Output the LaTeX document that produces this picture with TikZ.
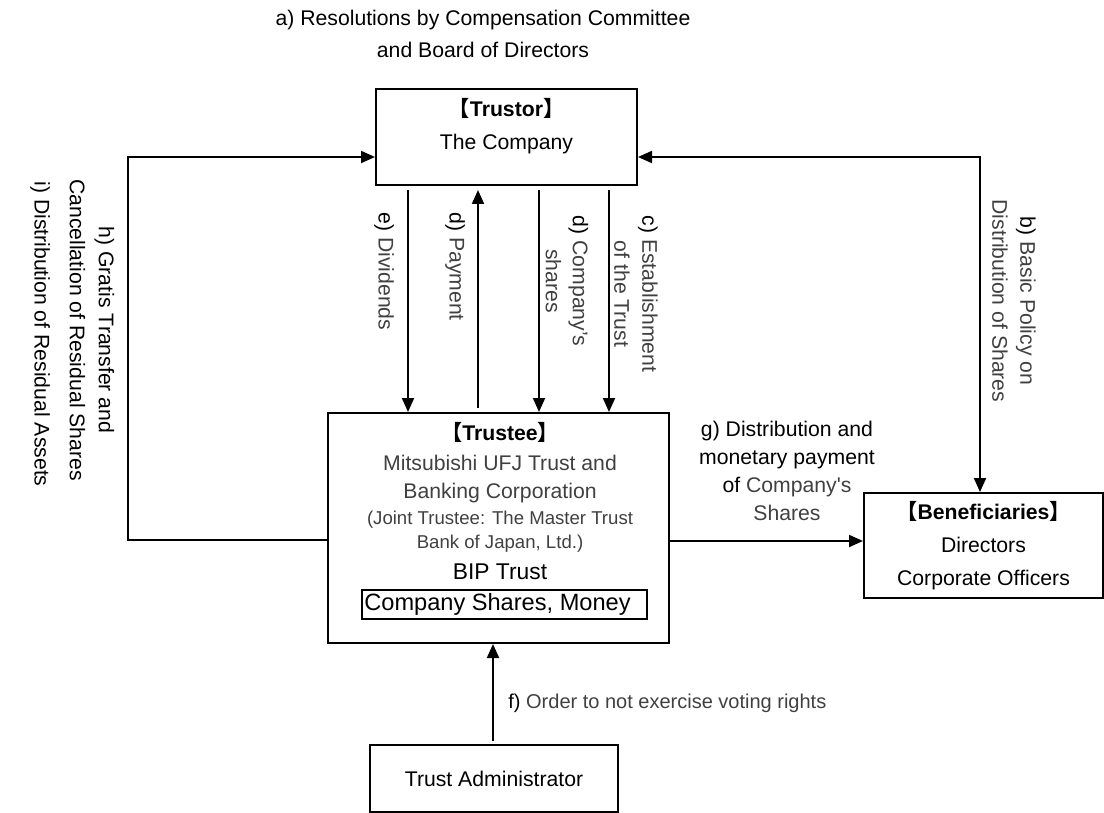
\documentclass[tikz,border=0pt]{standalone}
\usepackage{fontspec}
\setmainfont{Liberation Sans}
\newfontfamily\rawfont{Liberation Sans}
\newfontfamily\cjk{Noto Sans CJK JP}
\usetikzlibrary{arrows.meta,positioning}
\definecolor{ink}{RGB}{0, 0, 0}
\definecolor{soft}{RGB}{64, 64, 64}
\newcommand{\bodyfont}{\fontsize{10.6}{14}\selectfont}
\newcommand{\lbr}{{\cjk 【}}
\newcommand{\rbr}{{\cjk 】}}
\tikzstyle{link} = [
    line width=1pt,
    -{Triangle[length=7pt,width=6pt]},
    draw=ink
]
\tikzstyle{twoway} = [
    link,
    {Triangle[length=7pt,width=6pt]}-{Triangle[length=7pt,width=6pt]}
]
\tikzstyle{party} = [
    rectangle,
    draw=ink,
    line width=1pt,
    inner sep=0pt,
    align=center,
    text=ink,
    font=\bodyfont
]
\tikzstyle{note} = [
    inner sep=0pt,
    align=center,
    text=soft,
    font=\bodyfont
]
\begin{document}
\begin{tikzpicture}[x=0.5pt,y=-0.5pt]
    \useasboundingbox (0,0) rectangle (1104,813);
    % boxes
    \node[party, minimum width=130.5pt, minimum height=48pt] (trustor) at (506.5,137) {};
    \node[note, text=ink, font=\fontsize{10.6}{16.5}\selectfont] (trustortext) at (506.5,126) {\textbf{\lbr Trustor\rbr}\\The Company};
    \node[party, minimum width=170.5pt, minimum height=115pt] (trustee) at (498.5,528) {};
    \node[note, text=ink] (trusteetitle) at (500,432) {\textbf{\lbr Trustee\rbr}};
    \node[note] (trusteebank) at (500,479) {Mitsubishi UFJ Trust and\\Banking Corporation};
    \node[note, font=\fontsize{9.3}{12}\selectfont] (trusteejoint) at (500,532) {(Joint Trustee: The Master Trust\\Bank of Japan, Ltd.)};
    \node[note, text=ink, font=\fontsize{11.4}{14}\selectfont] (bip) at (500,572) {BIP Trust};
    \node[party, minimum width=142.5pt, minimum height=14.5pt, font=\fontsize{11.8}{14}\selectfont] (assets) at (504.5,604.5) {Company Shares, Money\hspace{7pt}};
    \node[party, minimum width=119.5pt, minimum height=52.5pt, font=\fontsize{10.6}{16.5}\selectfont] (beneficiaries) at (983.5,545.5) {\textbf{\lbr Beneficiaries\rbr}\\Directors\\Corporate Officers};
    \node[party, minimum width=124pt, minimum height=33.5pt] (admin) at (494,778.5) {Trust Administrator};
    % connectors
    \foreach \x in {408,539,609}
        \draw[link, shorten <=2pt] (trustor.south -| \x,0) -- (trustee.north -| \x,0);
    \draw[link, shorten <=2pt, shorten >=2pt] (trustee.north -| 478,0) -- (trustor.south -| 478,0);
    \draw[link] (trustee.west |- 0,540) -| (128,157) -- (trustor.west |- 0,157);
    \draw[twoway] (trustor.east |- 0,157) -| (beneficiaries.north -| 980,0);
    \draw[link] (trustee.east |- 0,541) -- (beneficiaries.west |- 0,541);
    \draw[link, shorten <=1.5pt] (admin.north -| 493,0) -- (trustee.south -| 493,0);
    % labels
    \node[note, text=ink, font=\fontsize{10.6}{16}\selectfont] (resolution) at (483,34) {a) Resolutions by Compensation Committee\\and Board of Directors};
    \node[note, rotate=-90] (policy) at (1014,301) {\textcolor{ink}{b)} Basic Policy on\\Distribution of Shares};
    \node[note, rotate=-90] (establish) at (636,294) {\textcolor{ink}{c)} Establishment\\of the Trust};
    \node[note, rotate=-90, font=\fontsize{10.6}{13.5}\selectfont] (shares) at (567,281) {\textcolor{ink}{d)} Company’s\\shares};
    \node[note, rotate=-90, anchor=west] (payment) at (455,212) {\textcolor{ink}{d)} Payment};
    \node[note, rotate=-90, anchor=west] (dividends) at (384,212) {\textcolor{ink}{e)} Dividends};
    \node[note, anchor=west, font=\fontsize{10}{14}\selectfont] (voting) at (508,703) {\textcolor{ink}{f)} Order to not exercise voting rights};
    \node[note, text=ink] (delivery) at (787,471) {g) Distribution and\\monetary payment\\of \textcolor{soft}{{\rawfont Company's}}\\\textcolor{soft}{Shares}};
    \node[note, text=ink, rotate=-90, font=\fontsize{10.6}{14.5}\selectfont] (gratis) at (92,330) {h) Gratis Transfer and\\Cancellation of Residual Shares};
    \node[note, text=ink, rotate=-90] (residual) at (40,334) {i) Distribution of Residual Assets};
\end{tikzpicture}
\end{document}
